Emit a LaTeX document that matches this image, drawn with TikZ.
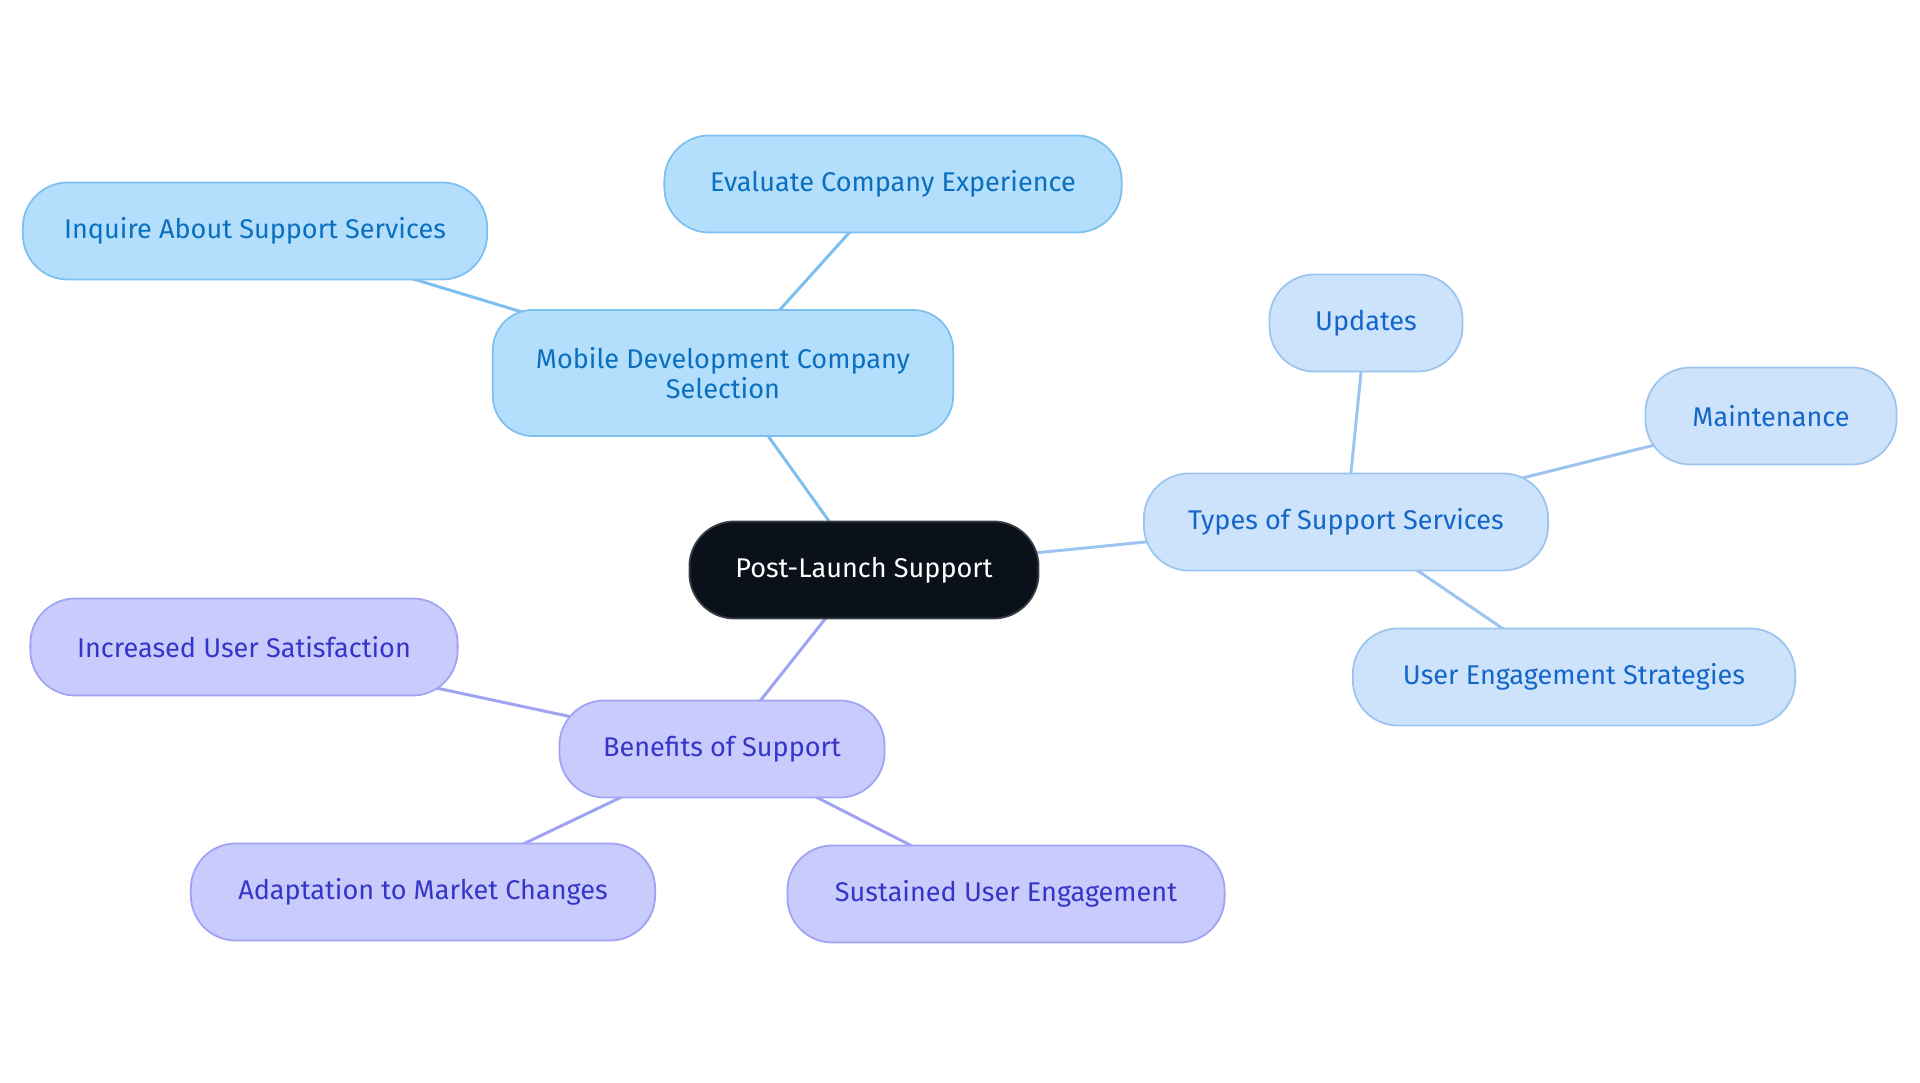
\documentclass[tikz,border=0pt]{standalone}
\usepackage{fontspec}
\setmainfont{Fira Sans}
\usepackage{tikz}
\usetikzlibrary{positioning,backgrounds}
\definecolor{hubfill}{HTML}{0B111B}
\definecolor{hubdraw}{HTML}{3A3F47}
\definecolor{bluefill}{HTML}{B3DFFD}
\definecolor{bluedraw}{HTML}{7DC0F0}
\definecolor{bluetext}{HTML}{0B6FBF}
\definecolor{skyfill}{HTML}{CDE3FB}
\definecolor{skydraw}{HTML}{9BC5F0}
\definecolor{skytext}{HTML}{1466C8}
\definecolor{violfill}{HTML}{C8CBFC}
\definecolor{violdraw}{HTML}{9FA3F3}
\definecolor{violtext}{HTML}{3535C8}

\begin{document}
\begin{tikzpicture}[
    x=0.01cm,y=-0.01cm,
    box/.style={draw,line width=0.5pt,rounded corners=0.45cm,align=center,inner sep=0pt,minimum height=0.97cm,font=\fontsize{7.7}{8.4}\selectfont},
    hub/.style={box,fill=hubfill,draw=hubdraw,text=white},
    bluebox/.style={box,fill=bluefill,draw=bluedraw,text=bluetext},
    skybox/.style={box,fill=skyfill,draw=skydraw,text=skytext},
    violbox/.style={box,fill=violfill,draw=violdraw,text=violtext},
    link/.style={line width=0.85pt}
  ]
    \useasboundingbox (0,0) rectangle (1920,1083);
    \node[hub,minimum width=3.49cm] (hub) at (864,570) {Post-Launch Support};
    % first branch
    \node[bluebox,minimum width=4.60cm,minimum height=1.26cm,rounded corners=0.4cm] (mdcs) at (723,373) {Mobile Development Company\\Selection};
    \node[bluebox,minimum width=4.57cm] (eval) at (893,184) {Evaluate Company Experience};
    \node[bluebox,minimum width=4.64cm] (inq) at (255,231) {Inquire About Support Services};
    % second branch
    \node[skybox,minimum width=4.04cm] (types) at (1346,522) {Types of Support Services};
    \node[skybox,minimum width=1.93cm] (upd) at (1366,323) {Updates};
    \node[skybox,minimum width=2.51cm] (maint) at (1771,416) {Maintenance};
    \node[skybox,minimum width=4.42cm] (ues) at (1574,677) {User Engagement Strategies};
    % third branch
    \node[violbox,minimum width=3.25cm] (ben) at (722,749) {Benefits of Support};
    \node[violbox,minimum width=4.27cm] (incr) at (244,647) {Increased User Satisfaction};
    \node[violbox,minimum width=4.64cm] (adapt) at (423,892) {Adaptation to Market Changes};
    \node[violbox,minimum width=4.37cm] (sust) at (1006,894) {Sustained User Engagement};
    \begin{scope}[on background layer]
      \draw[link,draw=bluedraw] (hub.center) -- (mdcs.center);
      \draw[link,draw=bluedraw] (mdcs.center) -- (eval.center);
      \draw[link,draw=bluedraw] (mdcs.center) -- (inq.center);
      \draw[link,draw=skydraw] (hub.center) -- (types.center);
      \foreach \t in {upd,maint,ues}{\draw[link,draw=skydraw] (types.center) -- (\t.center);}
      \draw[link,draw=violdraw] (hub.center) -- (ben.center);
      \foreach \t in {incr,adapt,sust}{\draw[link,draw=violdraw] (ben.center) -- (\t.center);}
    \end{scope}
  \end{tikzpicture}
\end{document}
